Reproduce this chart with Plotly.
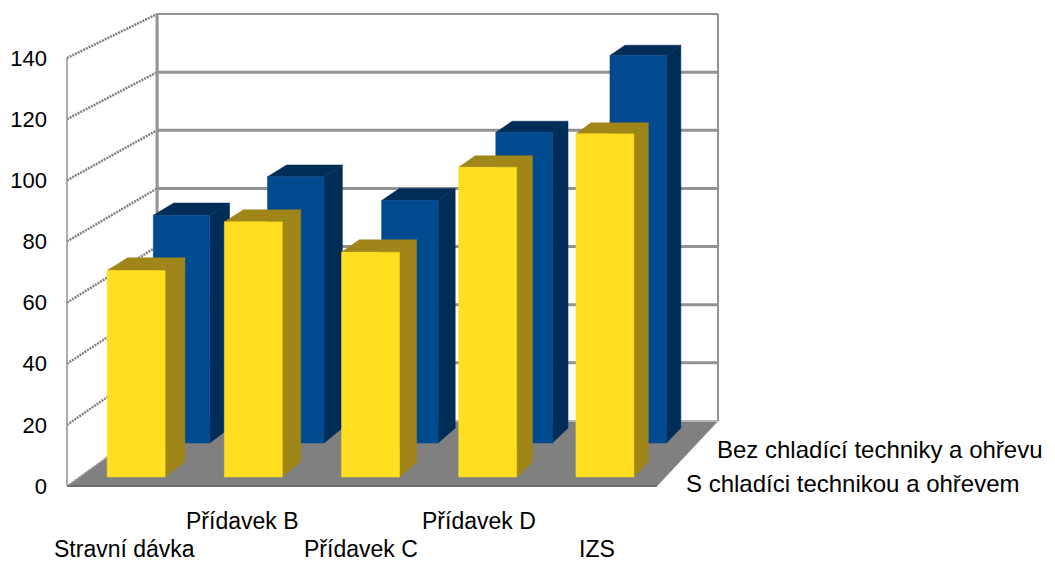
import plotly.graph_objects as go

# Chart data
categories = ["Stravní dávka", "Přídavek B", "Přídavek C", "Přídavek D", "IZS"]
series_front_name = "S chladíci technikou a ohřevem"
series_back_name = "Bez chladící techniky a ohřevu"
series_front = [68, 84, 74, 102, 113]
series_back = [77, 90, 82, 105, 131]
value_ticks = [0, 20, 40, 60, 80, 100, 120, 140]

# Axis scale of the front plane, in pixels per unit
PX_X = 118.0
PX_Y = 3.057
LEFT_PX = 67.0
BASE_PX = 486.0
W, H = 1055, 563
MARGIN_L = 50

# Perspective: vanishing point in axis units and shrink per unit of depth
VP_X = 15.49
VP_V = 431.8
SHRINK = 0.0493


def project(x, v, d):
    """Map (category position, value, depth 0..1) to front-plane axis units."""
    k = d * SHRINK
    return x + (VP_X - x) * k, v + (VP_V - v) * k


def polygon(points, color, line=None):
    xs, ys = zip(*[project(*p) for p in points + [points[0]]])
    return go.Scatter(
        x=xs, y=ys, mode="lines", fill="toself", fillcolor=color,
        line=dict(color=line or color, width=0.5), hoverinfo="skip", showlegend=False,
    )


def segment(a, b, color, width, dash="solid"):
    xs, ys = zip(project(*a), project(*b))
    return go.Scatter(
        x=xs, y=ys, mode="lines", line=dict(color=color, width=width, dash=dash),
        hoverinfo="skip", showlegend=False,
    )


def bar_faces(i, value, d0, d1, front, top, side):
    x0, x1 = i + BAR_LEFT, i + BAR_LEFT + BAR_WIDTH
    return [
        polygon([(x1, 0, d0), (x1, 0, d1), (x1, value, d1), (x1, value, d0)], side),
        polygon([(x0, value, d0), (x1, value, d0), (x1, value, d1), (x0, value, d1)], top),
        polygon([(x0, 0, d0), (x1, 0, d0), (x1, value, d0), (x0, value, d0)], front),
    ]


N = len(categories)
TOP = value_ticks[-1]
BAR_LEFT, BAR_WIDTH = 0.235, 0.495
DEPTH_FRONT = (0.14, 0.37)
DEPTH_BACK = (0.66, 0.89)

GRID = "#929292"
FLOOR = "#808080"

traces = []

# Floor
traces.append(polygon([(0, 0, 0), (N, 0, 0), (N, 0, 1), (0, 0, 1)], FLOOR))

# Gridlines on the side wall and the back wall
for t in value_ticks:
    if t > 0:
        traces.append(segment((0, t, 0), (0, t, 1), "#808080", 2.5, "2px,1px"))
        traces.append(segment((0, t, 1), (N, t, 1), GRID, 3 if t < TOP else 2))
traces.append(segment((0, 0, 0), (0, 0, 1), "#a8a8a8", 1.5, "2px,1px"))
traces.append(segment((0, 0, 1), (N, 0, 1), "#b4b4b4", 2))

# Wall edges
traces.append(segment((0, 0, 1), (0, TOP, 1), GRID, 3))
traces.append(segment((N, 0, 1), (N, TOP, 1), GRID, 2))
traces.append(segment((0, 0, 0), (0, TOP, 0), GRID, 1.5))
traces.append(segment((0, 0, 0), (N, 0, 0), "#6e6e6e", 2))

# Bars, back row first
for i, v in enumerate(series_back):
    traces += bar_faces(i, v, *DEPTH_BACK, "#004A8F", "#002C58", "#002C58")
for i, v in enumerate(series_front):
    traces += bar_faces(i, v, *DEPTH_FRONT, "#FFDF1F", "#A08518", "#A08518")

fig = go.Figure(traces)

FAMILY = "Liberation Sans, Arial, sans-serif"
annotations = []

# Category labels, staggered on two rows
for i, name in enumerate(categories):
    drop = -63 if i % 2 == 0 else -35
    annotations.append(dict(
        x=i + 0.49, y=0, text=name, showarrow=False, xanchor="center", yanchor="middle",
        yshift=drop, font=dict(family=FAMILY, size=23, color="#000000"),
    ))

# Series labels at the end of each row of bars
for name, depth in ((series_back_name, sum(DEPTH_BACK) / 2), (series_front_name, sum(DEPTH_FRONT) / 2)):
    ax, ay = project(N, 0, depth)
    annotations.append(dict(
        x=ax, y=ay, text=name, showarrow=False, xanchor="left", yanchor="middle",
        xshift=11, yshift=-14, font=dict(family=FAMILY, size=24, color="#000000"),
    ))

fig.update_layout(
    width=W, height=H,
    margin=dict(l=MARGIN_L, r=0, t=0, b=0),
    paper_bgcolor="white", plot_bgcolor="white",
    showlegend=False,
    annotations=annotations,
    xaxis=dict(
        range=[(MARGIN_L - LEFT_PX) / PX_X, (W - LEFT_PX) / PX_X],
        visible=False, fixedrange=True,
    ),
    yaxis=dict(
        range=[(BASE_PX - H) / PX_Y, BASE_PX / PX_Y],
        tickvals=value_ticks, ticktext=[str(t) for t in value_ticks],
        showgrid=False, zeroline=False, showline=False, ticks="",
        tickfont=dict(family=FAMILY, size=22, color="#000000"),
        ticklabelstandoff=2, fixedrange=True,
    ),
)

fig.write_html("out.html", config=dict(displayModeBar=False))
